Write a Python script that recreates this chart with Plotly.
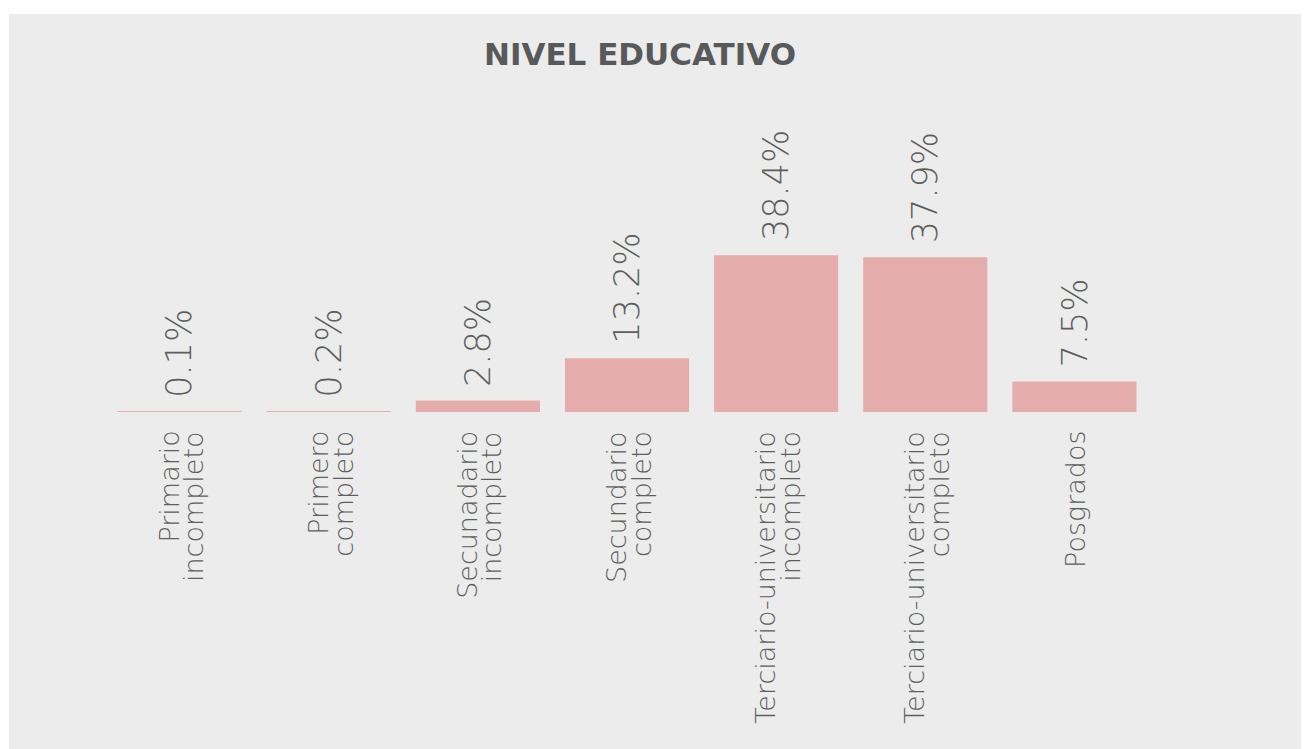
import plotly.graph_objects as go

# datos
niveles_l1 = ["Primario", "Primero", "Secunadario", "Secundario",
              "Terciario-universitario", "Terciario-universitario", "Posgrados"]
niveles_l2 = ["incompleto", "completo", "incompleto", "completo",
              "incompleto", "completo", ""]
porcentajes = [0.1, 0.2, 2.8, 13.2, 38.4, 37.9, 7.5]
etiquetas = ["0.1%", "0.2%", "2.8%", "13.2%", "38.4%", "37.9%", "7.5%"]

categorias = [(a + " " + b).strip() for a, b in zip(niveles_l1, niveles_l2)]

# la pagina tiene 8px de margen en el body
W, H = 1301, 741
ML, MR, MT, MB = 97, 160, 92, 337
PW, PH = W - ML - MR, H - MT - MB

gris_txt = "#5d5e5e"
fondo = "#EBECEB"

fig = go.Figure()
fig.add_trace(go.Bar(x=categorias,
                     y=porcentajes,
                     marker=dict(color="#E4ADAB", line=dict(width=0)),
                     hoverinfo="skip"))

# etiquetas de valor (rotadas)
for c, v, t in zip(categorias, porcentajes, etiquetas):
    fig.add_annotation(x=c, y=v, xref="x", yref="y", text=t,
                       showarrow=False, textangle=-90,
                       xanchor="center", yanchor="bottom", yshift=12,
                       font=dict(family="DejaVu Sans", size=35, color=gris_txt,
                                 weight=200))

# etiquetas de categoria, una anotacion por linea
for c, l1, l2 in zip(categorias, niveles_l1, niveles_l2):
    lineas = [(l1, -11), (l2, 14)] if l2 else [(l1, 1)]
    for txt, dx in lineas:
        fig.add_annotation(x=c, y=0, xref="x", yref="y", text=txt,
                           showarrow=False, textangle=-90,
                           xanchor="center", yanchor="top",
                           xshift=dx, yshift=-17,
                           font=dict(family="DejaVu Sans", size=27,
                                     color=gris_txt, weight=200))

# fondo gris con borde blanco arriba/izquierda
fig.add_shape(type="rect", xref="paper", yref="paper", layer="below",
              x0=(1 - ML) / PW, x1=(W + 10 - ML) / PW,
              y0=(MT + PH - H - 10) / PH, y1=(MT + PH - 6) / PH,
              fillcolor=fondo, line=dict(width=0))

fig.update_layout(
    width=W, height=H,
    margin=dict(l=ML, r=MR, t=MT, b=MB),
    paper_bgcolor="white",
    plot_bgcolor=fondo,
    showlegend=False,
    bargap=25 / 149,
    title=dict(text="<b>NIVEL EDUCATIVO</b>", x=632 / W, y=1 - 46 / H,
               xanchor="center", yanchor="middle", xref="container",
               yref="container",
               font=dict(family="DejaVu Sans", size=31, color="#58595B")),
)
fig.update_xaxes(range=[-0.5, 6.5], showticklabels=False, showgrid=False,
                 zeroline=False, showline=False, ticks="")
fig.update_yaxes(range=[0, PH / 4.08], showticklabels=False, showgrid=False,
                 zeroline=False, showline=False, ticks="")

fig.write_html("out.html")
